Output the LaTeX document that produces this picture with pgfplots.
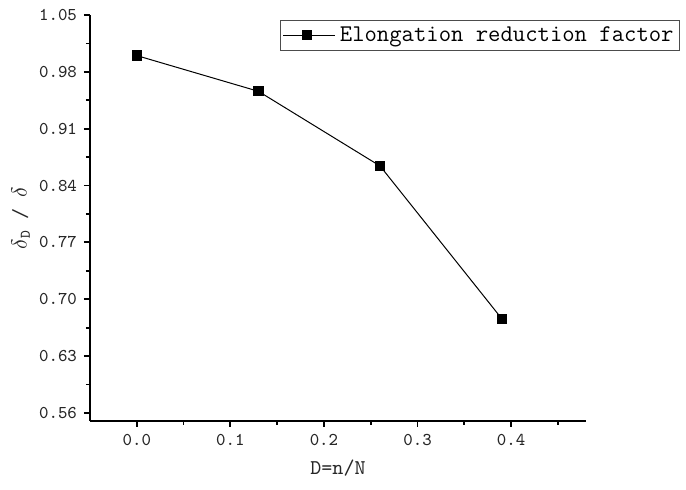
\documentclass[border=0pt]{standalone}
\usepackage{pgfplots}
\pgfplotsset{compat=1.18}

\begin{document}
\begin{tikzpicture}
\begin{axis}[
  name=ax,
  scale only axis,
  width=248pt, height=203pt,
  xmin=-0.05, xmax=0.48,
  ymin=0.55, ymax=1.05,
  xtick={0,0.1,0.2,0.3,0.4},
  xticklabels={0.0,0.1,0.2,0.3,0.4},
  minor xtick={0.05,0.15,0.25,0.35,0.45},
  ytick={0.56,0.63,0.70,0.77,0.84,0.91,0.98,1.05},
  yticklabels={0.56,0.63,0.70,0.77,0.84,0.91,0.98,1.05},
  minor ytick={0.595,0.665,0.735,0.805,0.875,0.945,1.015},
  axis x line*=bottom, axis y line*=left,
  axis line style={line width=1pt,-},
  tick style={line width=0.9pt,black},
  tick align=outside,
  major tick length=3pt, minor tick length=2pt,
  tick label style={font=\ttfamily\fontsize{9}{11}\selectfont, text=black!85},
  xlabel={D=n/N},
  ylabel={$\delta$\textsubscript{D} / $\delta$},
  label style={font=\ttfamily\fontsize{10.5}{12}\selectfont, text=black!85},
  xlabel style={at={(axis description cs:0.5,0)},anchor=north,yshift=-16pt},
  ylabel style={at={(axis description cs:-0.14,0.5)},anchor=center},
  legend style={at={(1.19,0.988)},anchor=north east,
    draw=black!70,line width=0.6pt,
    font=\ttfamily\fontsize{12}{13}\selectfont,
    inner sep=1pt, row sep=0pt},
  legend cell align=left,
  legend image code/.code={
    \draw[mark repeat=2,mark phase=2,#1]
      plot coordinates {(0cm,0cm) (0.42cm,0cm) (0.84cm,0cm)};
    \path (0.84cm,0cm) -- (0.92cm,0cm);},
]
\addplot[black,line width=0.5pt,mark=square*,mark size=2.3pt,
  mark options={solid,fill=black}]
  coordinates {(0,1.0)(0.13,0.956)(0.26,0.864)(0.39,0.676)};
\addlegendentry{Elongation reduction factor}
\end{axis}
\pgfresetboundingbox
\useasboundingbox ([xshift=-45pt,yshift=-34.5pt]ax.south west)
  rectangle ([xshift=298pt,yshift=7.5pt]ax.north west);
\end{tikzpicture}
\end{document}
